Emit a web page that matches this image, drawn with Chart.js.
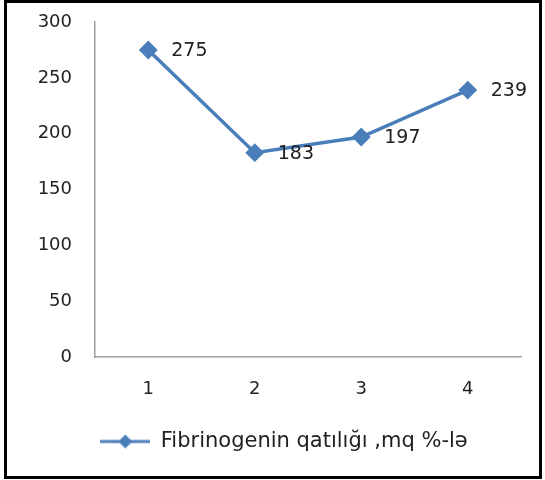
<!DOCTYPE html>
<html>
<head>
<meta charset="utf-8">
<script src="https://cdn.jsdelivr.net/npm/chart.js@4"></script>
<style>
  html, body { margin: 0; padding: 0; background: #fff; }
  #box {
    position: absolute; left: 4px; top: 0px;
    width: 532px; height: 473px;
    border: 3px solid #000;
  }
</style>
</head>
<body>
<div id="box"><canvas id="fibChart" width="532" height="473"></canvas></div>
<script>
// chart data
const categories = ["1", "2", "3", "4"];
const fibrinogen = [275, 183, 197, 239];
const seriesName = "Fibrinogenin qatılığı ,mq %-lə";
const yTicks = [0, 50, 100, 150, 200, 250, 300];

const lineColor = "#4a7ebb";
const fontFamily = "'DejaVu Sans', sans-serif";

// legend marker: short line with a diamond on it
function legendMarker() {
  const c = document.createElement("canvas");
  c.width = 50; c.height = 16;
  const g = c.getContext("2d");
  g.strokeStyle = lineColor;
  g.lineWidth = 3;
  g.beginPath(); g.moveTo(0, 8); g.lineTo(50, 8); g.stroke();
  g.fillStyle = lineColor;
  g.beginPath();
  g.moveTo(25, 1); g.lineTo(32, 8); g.lineTo(25, 15); g.lineTo(18, 8);
  g.closePath(); g.fill();
  return c;
}

// value labels to the right of each point
const valueLabels = {
  id: "valueLabels",
  afterDatasetsDraw(chart) {
    const ctx = chart.ctx;
    const meta = chart.getDatasetMeta(0);
    ctx.save();
    ctx.font = "19px " + fontFamily;
    ctx.fillStyle = "#222";
    ctx.textAlign = "left";
    ctx.textBaseline = "middle";
    meta.data.forEach((pt, i) => {
      ctx.fillText(String(fibrinogen[i]), pt.x + 23, pt.y + 1);
    });
    ctx.restore();
  }
};

// legend sits a bit right of the canvas centre in the original
const legendShift = {
  id: "legendShift",
  afterLayout(chart) {
    chart.legend.left += 20;
    chart.legend.right += 20;
  }
};

const ctx = document.getElementById("fibChart").getContext("2d");
new Chart(ctx, {
  type: "line",
  data: {
    labels: categories,
    datasets: [{
      label: seriesName,
      data: fibrinogen,
      borderColor: lineColor,
      backgroundColor: lineColor,
      borderWidth: 3.5,
      pointStyle: "rectRot",
      pointRadius: 7,
      pointHoverRadius: 7,
      tension: 0
    }]
  },
  options: {
    responsive: false,
    animation: false,
    layout: { padding: { top: 19, right: 18, bottom: 14, left: 0 } },
    plugins: {
      tooltip: { enabled: false },
      legend: {
        position: "bottom",
        labels: {
          usePointStyle: true,
          pointStyle: legendMarker(),
          pointStyleWidth: 50,
          color: "#222",
          padding: 12,
          font: { family: fontFamily, size: 21 }
        }
      }
    },
    scales: {
      x: {
        offset: true,
        grid: { display: false, drawTicks: true, tickLength: 22 },
        border: { display: true, color: "#a0a0a0", width: 1.5 },
        ticks: { color: "#222", padding: 0, font: { family: fontFamily, size: 18 } },
        afterFit(scale) { scale.height = 62; }
      },
      y: {
        min: 0,
        max: 300,
        afterBuildTicks(scale) { scale.ticks = yTicks.map(v => ({ value: v })); },
        grid: { display: false, drawTicks: true, tickLength: 23 },
        border: { display: true, color: "#a0a0a0", width: 1.5 },
        ticks: { color: "#222", padding: 0, font: { family: fontFamily, size: 18 } },
        afterFit(scale) { scale.width = 88; }
      }
    }
  },
  plugins: [valueLabels, legendShift]
});
</script>
</body>
</html>
